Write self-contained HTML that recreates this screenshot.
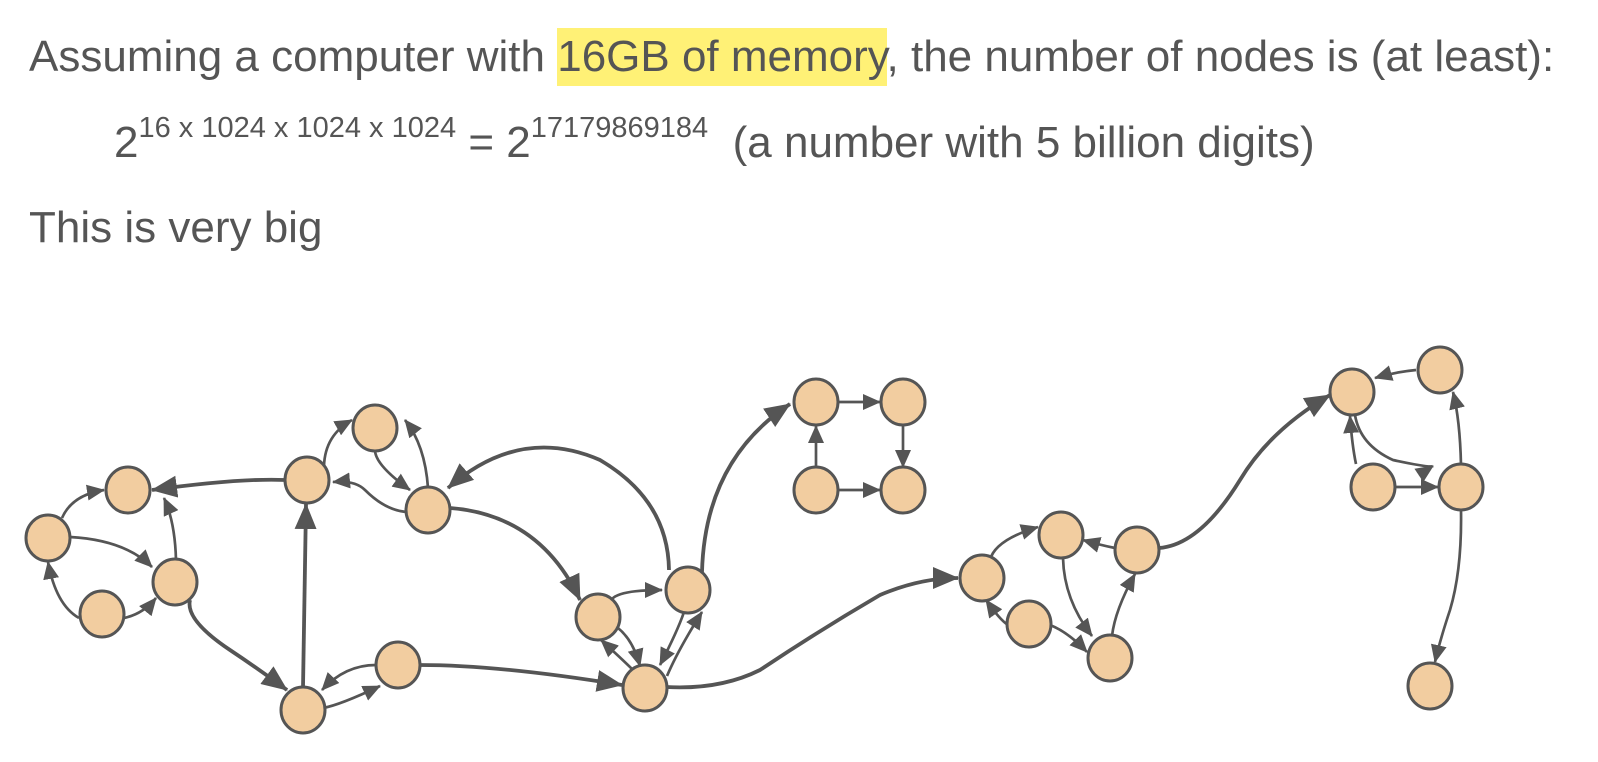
<!DOCTYPE html>
<html><head><meta charset="utf-8"><style>
body{margin:0;width:1598px;height:762px;background:#fff;overflow:hidden;font-family:"Liberation Sans",sans-serif;color:#555}
.t{position:absolute;font-size:44px;line-height:1;white-space:nowrap}
.hl{background:#fff176;padding:4px 0 5px}
sup{font-size:29px;line-height:1;vertical-align:0;position:relative;top:-20px}
</style></head><body>
<div class="t" style="left:29px;top:35px">Assuming a computer with <span class="hl">16GB of memory</span>, the number of nodes is (at least):</div>
<div class="t" style="left:114px;top:121px">2<sup>16 x 1024 x 1024 x 1024</sup> = 2<sup>17179869184</sup>&nbsp; (a number with 5 billion digits)</div>
<div class="t" style="left:29px;top:206px">This is very big</div>
<svg width="1598" height="762" style="position:absolute;left:0;top:0">
<defs>
<marker id="a" markerUnits="userSpaceOnUse" markerWidth="18" markerHeight="16" refX="17" refY="8" orient="auto"><path d="M0,0L18,8L0,16z" fill="#555"/></marker>
<marker id="b" markerUnits="userSpaceOnUse" markerWidth="26" markerHeight="22" refX="25" refY="11" orient="auto"><path d="M0,0L26,11L0,22z" fill="#555"/></marker>
</defs>
<g fill="none" stroke="#555" stroke-width="2.7" marker-end="url(#a)">
<path d="M62,518 Q72,495 104,490"/>
<path d="M70,537 Q125,540 152,567"/>
<path d="M79,618 Q56,605 48,562"/>
<path d="M124,618 Q143,614 156,598"/>
<path d="M176,560 Q175,522 164,498"/>
<path d="M324,466 Q325,435 352,420"/>
<path d="M375,450 Q375,465 410,490"/>
<path d="M428,488 Q425,445 405,420"/>
<path d="M406,512 Q385,510 365,490 Q355,480 333,482"/>
<path d="M323,708 Q340,705 380,686"/>
<path d="M376,665 Q345,665 322,690"/>
<path d="M612,599 Q620,590 662,590"/>
<path d="M618,628 Q633,640 640,666"/>
<path d="M633,670 Q623,660 601,640"/>
<path d="M684,612 Q678,630 660,665"/>
<path d="M667,676 Q678,650 702,612"/>
<path d="M816,468 L816,426"/>
<path d="M838,402 L880,402"/>
<path d="M903,425 L903,467"/>
<path d="M838,490 L880,490"/>
<path d="M1008,625 Q1000,620 986,600"/>
<path d="M990,560 Q995,540 1038,527"/>
<path d="M1115,548 Q1100,545 1083,540"/>
<path d="M1050,625 Q1068,632 1087,652"/>
<path d="M1063,558 Q1064,600 1092,636"/>
<path d="M1112,636 Q1115,610 1135,574"/>
<path d="M1416,370 Q1395,372 1375,378"/>
<path d="M1355,415 Q1360,445 1393,460 Q1430,468 1433,466"/>
<path d="M1356,464 Q1352,445 1350,416"/>
<path d="M1395,487 L1438,487"/>
<path d="M1461,465 Q1460,420 1453,392"/>
<path d="M1461,510 Q1462,570 1450,610 Q1440,640 1435,662"/>
</g>
<g fill="none" stroke="#555" stroke-width="3.8" marker-end="url(#b)">
<path d="M285,480 Q240,478 152,490"/>
<path d="M303,688 L306,504"/>
<path d="M190,600 Q185,620 230,650 Q260,670 287,690"/>
<path d="M669,570 Q668,500 600,460 Q520,425 448,488"/>
<path d="M450,508 Q540,515 580,600"/>
<path d="M420,665 Q500,665 622,685"/>
<path d="M702,572 Q705,460 790,404"/>
<path d="M666,687 Q720,690 760,670 Q820,630 880,595 Q920,578 958,578"/>
<path d="M1159,548 Q1200,545 1240,480 Q1270,430 1330,395"/>
</g>
<g fill="#f2cda0" stroke="#555" stroke-width="3">
<ellipse cx="48" cy="538" rx="22" ry="23"/><ellipse cx="128" cy="490" rx="22" ry="23"/>
<ellipse cx="175" cy="582" rx="22" ry="23"/><ellipse cx="102" cy="614" rx="22" ry="23"/>
<ellipse cx="307" cy="480" rx="22" ry="23"/><ellipse cx="375" cy="428" rx="22" ry="23"/>
<ellipse cx="428" cy="510" rx="22" ry="23"/><ellipse cx="303" cy="710" rx="22" ry="23"/>
<ellipse cx="398" cy="665" rx="22" ry="23"/><ellipse cx="598" cy="617" rx="22" ry="23"/>
<ellipse cx="688" cy="590" rx="22" ry="23"/><ellipse cx="645" cy="688" rx="22" ry="23"/>
<ellipse cx="816" cy="402" rx="22" ry="23"/><ellipse cx="903" cy="402" rx="22" ry="23"/>
<ellipse cx="816" cy="490" rx="22" ry="23"/><ellipse cx="903" cy="490" rx="22" ry="23"/>
<ellipse cx="982" cy="578" rx="22" ry="23"/><ellipse cx="1061" cy="535" rx="22" ry="23"/>
<ellipse cx="1137" cy="550" rx="22" ry="23"/><ellipse cx="1029" cy="624" rx="22" ry="23"/>
<ellipse cx="1110" cy="658" rx="22" ry="23"/><ellipse cx="1352" cy="392" rx="22" ry="23"/>
<ellipse cx="1440" cy="370" rx="22" ry="23"/><ellipse cx="1373" cy="487" rx="22" ry="23"/>
<ellipse cx="1461" cy="487" rx="22" ry="23"/><ellipse cx="1430" cy="686" rx="22" ry="23"/>
</g>
</svg>
</body></html>
